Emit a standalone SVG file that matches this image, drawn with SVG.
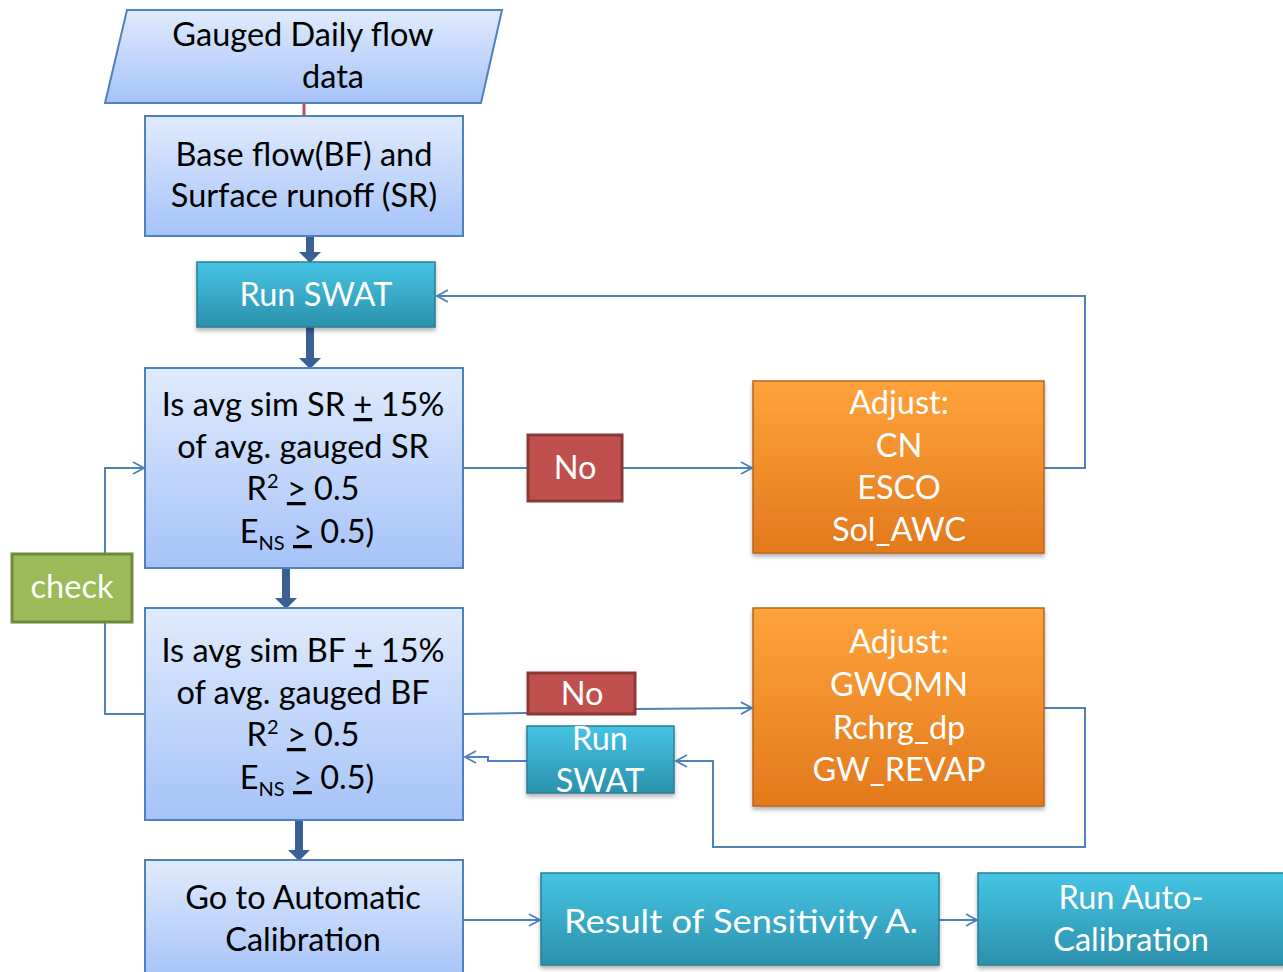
<svg xmlns="http://www.w3.org/2000/svg" width="1283" height="972" viewBox="0 0 1283 972">
<defs>
<linearGradient id="gBlue" x1="0" y1="0" x2="0" y2="1"><stop offset="0" stop-color="#E0EBFD"/><stop offset="1" stop-color="#A5C3F8"/></linearGradient>
<linearGradient id="gTeal" x1="0" y1="0" x2="0" y2="1"><stop offset="0" stop-color="#46C4E4"/><stop offset="1" stop-color="#2B91AC"/></linearGradient>
<linearGradient id="gOrange" x1="0" y1="0" x2="0" y2="1"><stop offset="0" stop-color="#FFA33C"/><stop offset="1" stop-color="#E2791C"/></linearGradient>
<marker id="open" markerWidth="14" markerHeight="14" refX="12" refY="7" orient="auto" markerUnits="userSpaceOnUse"><path d="M1,1 L12,7 L1,13" fill="none" stroke="#4F81BD" stroke-width="1.8"/></marker>
<marker id="thick" markerWidth="12" markerHeight="22" refX="0" refY="11" orient="auto" markerUnits="userSpaceOnUse"><path d="M0,0 L11,11 L0,22 Z" fill="#3A6094"/></marker>
<filter id="sh" x="-5%" y="-5%" width="110%" height="120%"><feDropShadow dx="0" dy="3" stdDeviation="2" flood-color="#000" flood-opacity="0.3"/></filter>
</defs>
<style>
.bl{fill:url(#gBlue);stroke:#4F81BD;stroke-width:2}
.tl{fill:url(#gTeal);stroke:#2A7F98;stroke-width:1.5}
.or{fill:url(#gOrange);stroke:#B8661D;stroke-width:1.5}
.rd{fill:#C0504D;stroke:#8C3836;stroke-width:3}
.gr{fill:#9BBB59;stroke:#71893F;stroke-width:3}
text{font-family:Lato,"Open Sans","Liberation Sans",sans-serif;text-anchor:middle}
.k{fill:#000;font-size:32.5px}
.w{fill:#fff;font-size:32.5px}
.c{fill:none;stroke:#4F81BD;stroke-width:2}
.t{fill:none;stroke:#3A6094;stroke-width:8}
.u{text-decoration:underline}
</style>

<g id="connectors">
<line x1="304" y1="103" x2="304" y2="116" stroke="#C0504D" stroke-width="3"/>
<line class="t" x1="310" y1="236" x2="310" y2="252" marker-end="url(#thick)"/>
<line class="t" x1="310" y1="327" x2="310" y2="358" marker-end="url(#thick)"/>
<line class="t" x1="286" y1="568" x2="286" y2="598" marker-end="url(#thick)"/>
<line class="t" x1="299" y1="820" x2="299" y2="850" marker-end="url(#thick)"/>
<polyline class="c" points="463,468 527,468"/>
<polyline class="c" points="623,468 752,468" marker-end="url(#open)"/>
<polyline class="c" points="1044,468 1085,468 1085,296 437,296" marker-end="url(#open)"/>
<polyline class="c" points="105,553 105,468 144,468" marker-end="url(#open)"/>
<polyline class="c" points="105,623 105,714 145,714"/>
<polyline class="c" points="463,714 527,713"/>
<polyline class="c" points="636,709 752,708" marker-end="url(#open)"/>
<polyline class="c" points="1044,708 1085,708 1085,847 713,847 713,761 676,761" marker-end="url(#open)"/>
<polyline class="c" points="527,761 488,761 488,757 465,757" marker-end="url(#open)"/>
<polyline class="c" points="463,920 540,920" marker-end="url(#open)"/>
<polyline class="c" points="939,920 977,920" marker-end="url(#open)"/>
</g>

<g id="n-gauged">
<polygon class="bl" points="127,10 502,10 481,103 105,103"/>
<text class="k" x="303" y="46">Gauged Daily flow</text>
<text class="k" x="333" y="88">data</text>
</g>

<g id="n-baseflow">
<rect class="bl" x="145" y="116" width="318" height="120"/>
<text class="k" x="304" y="166">Base flow(BF) and</text>
<text class="k" x="304" y="207">Surface runoff (SR)</text>
</g>

<g id="n-runswat1">
<rect class="tl" x="197" y="262" width="238" height="65" filter="url(#sh)"/>
<text class="w" x="316" y="306">Run SWAT</text>
</g>

<g id="n-sr">
<rect class="bl" x="145" y="368" width="318" height="200"/>
<text class="k" x="303" y="416">Is avg sim SR <tspan class="u">+</tspan> 15%</text>
<text class="k" x="303" y="458">of avg. gauged SR</text>
<text class="k" x="303" y="500">R<tspan font-size="20" dy="-12">2</tspan><tspan dy="12"> </tspan><tspan class="u">&gt;</tspan> 0.5</text>
<text class="k" x="307" y="543">E<tspan font-size="20" dy="7">NS</tspan><tspan dy="-7"> </tspan><tspan class="u">&gt;</tspan> 0.5)</text>
</g>

<g id="n-no1">
<rect class="rd" x="528" y="435" width="94" height="66"/>
<text class="w" x="575" y="479">No</text>
</g>

<g id="n-adjust1">
<rect class="or" x="753" y="381" width="291" height="172" filter="url(#sh)"/>
<text class="w" x="899" y="414">Adjust:</text>
<text class="w" x="899" y="457">CN</text>
<text class="w" x="899" y="499">ESCO</text>
<text class="w" x="899" y="541">Sol_AWC</text>
</g>

<g id="n-check">
<rect class="gr" x="12" y="554" width="120" height="68"/>
<text class="w" x="72" y="598">check</text>
</g>

<g id="n-bf">
<rect class="bl" x="145" y="608" width="318" height="212"/>
<text class="k" x="303" y="662">Is avg sim BF <tspan class="u">+</tspan> 15%</text>
<text class="k" x="303" y="704">of avg. gauged BF</text>
<text class="k" x="303" y="746">R<tspan font-size="20" dy="-12">2</tspan><tspan dy="12"> </tspan><tspan class="u">&gt;</tspan> 0.5</text>
<text class="k" x="307" y="789">E<tspan font-size="20" dy="7">NS</tspan><tspan dy="-7"> </tspan><tspan class="u">&gt;</tspan> 0.5)</text>
</g>

<g id="n-no2">
<rect class="rd" x="528" y="673" width="107" height="41"/>
<text class="w" x="582" y="705">No</text>
</g>

<g id="n-runswat2">
<rect class="tl" x="527" y="726" width="147" height="67" filter="url(#sh)"/>
<text class="w" x="600" y="750">Run</text>
<text class="w" x="600" y="792">SWAT</text>
</g>

<g id="n-adjust2">
<rect class="or" x="753" y="608" width="291" height="198" filter="url(#sh)"/>
<text class="w" x="899" y="653">Adjust:</text>
<text class="w" x="899" y="696">GWQMN</text>
<text class="w" x="899" y="739">Rchrg_dp</text>
<text class="w" x="899" y="781">GW_REVAP</text>
</g>

<g id="n-goto">
<rect class="bl" x="145" y="860" width="318" height="120"/>
<text class="k" x="303" y="909">Go to Automatic</text>
<text class="k" x="303" y="951">Calibration</text>
</g>

<g id="n-result">
<rect class="tl" x="541" y="873" width="398" height="92" filter="url(#sh)"/>
<text class="w" x="741" y="933" font-size="40" textLength="354" lengthAdjust="spacingAndGlyphs">Result of Sensitivity A.</text>
</g>

<g id="n-runauto">
<rect class="tl" x="978" y="873" width="310" height="92" filter="url(#sh)"/>
<text class="w" x="1131" y="909">Run Auto-</text>
<text class="w" x="1131" y="951">Calibration</text>
</g>
</svg>
